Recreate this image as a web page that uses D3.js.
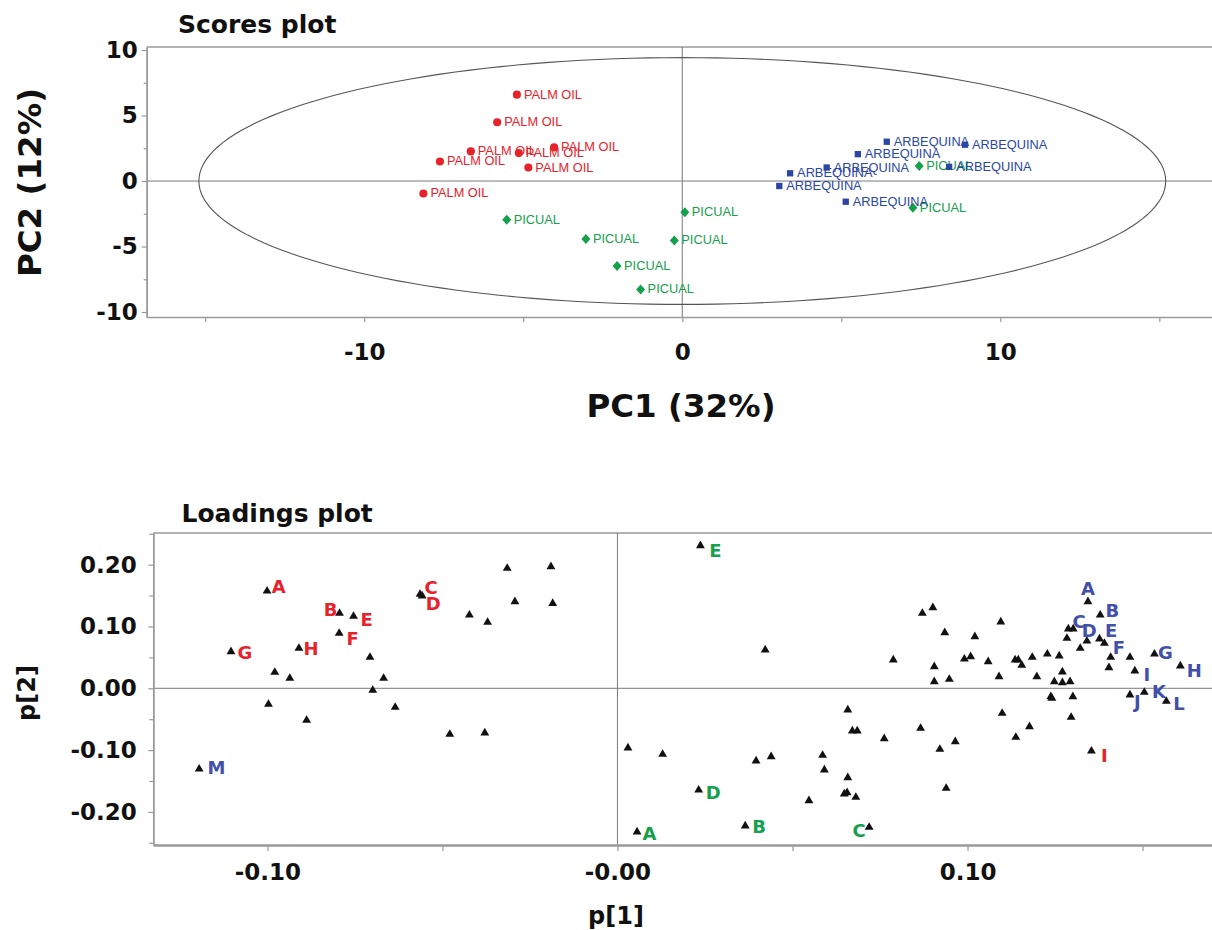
<!DOCTYPE html>
<html><head><meta charset="utf-8">
<script src="https://cdn.jsdelivr.net/npm/d3@7"></script>
<style>body{margin:0;background:#fff;} svg{display:block;}</style>
</head><body>
<svg id="chart" width="1212" height="930"></svg>
<script>
// ===================== DATA =====================
// Scores plot (PC1, PC2)
const palmOil = [[-5.20,6.59],[-5.82,4.49],[-6.65,2.26],[-5.14,2.13],[-4.03,2.57],[-7.62,1.49],[-4.84,1.03],[-8.14,-0.95]];
const picual = [[-5.52,-2.95],[-3.03,-4.43],[-0.25,-4.54],[0.08,-2.38],[-2.05,-6.48],[-1.31,-8.28],[7.45,1.15],[7.25,-2.05]];
const arbequina = [[6.43,3.00],[8.89,2.77],[5.52,2.05],[4.54,1.03],[3.39,0.59],[3.05,-0.38],[8.39,1.08],[5.14,-1.58]];
const scoreGroupNames = ["PALM OIL","PICUAL","ARBEQUINA"];
const hotellingRadii = [15.2, 9.42];   // T2 ellipse semi-axes (PC1, PC2)
const scoreXTicks = [-15,-10,-5,0,5,10,15];
const scoreXTickLabels = ["","-10","","0","","10",""];
const scoreYTicks = [-10,-5,0,5,10];
const scoreYTickLabels = ["-10","-5","0","5","10"];
const scoreYMinorTicks = [-7.5,-2.5,2.5,7.5];

// Loadings plot (p[1], p[2]) - unlabeled variables
const loadingsPlain = [
  [-0.0315,0.1942],[-0.0190,0.1968],[-0.0293,0.1401],[-0.0185,0.1375],[-0.0423,0.1186],[-0.0371,0.1068],
  [-0.0707,0.0502],[-0.0979,0.0259],[-0.0936,0.0162],[-0.0668,0.0162],[-0.0699,-0.0032],[-0.0997,-0.0259],
  [-0.0888,-0.0518],[-0.0635,-0.0307],[-0.0479,-0.0744],[-0.0379,-0.0723],
  [0.0422,0.0620],[0.0788,0.0458],[0.0658,-0.0351],[0.0671,-0.0691],[0.0685,-0.0691],[0.0762,-0.0816],
  [0.0030,-0.0966],[0.0129,-0.1068],[0.0396,-0.1176],[0.0439,-0.1107],[0.0586,-0.1084],[0.0591,-0.1322],
  [0.0658,-0.1447],[0.0648,-0.1710],[0.0656,-0.1689],[0.0681,-0.1764],[0.0547,-0.1819],[0.0866,-0.0647],
  [0.0921,-0.0987],[0.0965,-0.0864],[0.0939,-0.1618],[0.1138,-0.0793],[0.1177,-0.0621],[0.0871,0.1214],
  [0.0901,0.1304],[0.0935,0.0900],[0.0905,0.0350],[0.0905,0.0107],[0.0948,0.0146],[0.1021,0.0835],
  [0.1095,0.1073],[0.0991,0.0474],[0.1009,0.0511],[0.1059,0.0430],[0.1090,0.0188],[0.1136,0.0458],
  [0.1145,0.0458],[0.1155,0.0372],[0.1185,0.0502],[0.1198,0.0188],[0.1228,0.0555],[0.1262,0.0523],
  [0.1271,0.0264],[0.1248,0.0107],[0.1271,0.0091],[0.1293,0.0107],[0.1238,-0.0136],[0.1241,-0.0162],
  [0.1301,-0.0136],[0.1296,-0.0469],[0.1099,-0.0405],[0.1302,0.0960],[0.1284,0.0809],[0.1322,0.0647],
  [0.1391,0.0728],[0.1404,0.0333],[0.1464,0.0502]
];
// labeled variables: [p1, p2, letter]
const loadingsRed = [[-0.1001,0.1574,"A"],[-0.0794,0.1214,"B"],[-0.0564,0.1521,"C"],[-0.0558,0.1494,"D"],
  [-0.0754,0.1165,"E"],[-0.0795,0.0890,"F"],[-0.1104,0.0592,"G"],[-0.0910,0.0647,"H"],[0.1354,-0.1015,"I"]];
const loadingsGreen = [[0.0056,-0.2325,"A"],[0.0365,-0.2228,"B"],[0.0719,-0.2249,"C"],[0.0232,-0.1646,"D"],[0.0237,0.2307,"E"]];
const loadingsBlue = [[0.1344,0.1401,"A"],[0.1379,0.1186,"B"],[0.1288,0.0960,"C"],[0.1341,0.0765,"D"],
  [0.1377,0.0798,"E"],[0.1409,0.0502,"F"],[0.1534,0.0555,"G"],[0.1608,0.0361,"H"],[0.1478,0.0280,"I"],
  [0.1464,-0.0108,"J"],[0.1505,-0.0065,"K"],[0.1568,-0.0210,"L"],[-0.1195,-0.1306,"M"]];
const loadXTicks = [-0.10,-0.05,0,0.05,0.10,0.15];
const loadXTickLabels = ["-0.10","","-0.00","","0.10",""];
const loadYTicks = [-0.20,-0.10,0,0.10,0.20];
const loadYTickLabels = ["-0.20","-0.10","0.00","0.10","0.20"];
const loadYMinorTicks = [-0.25,-0.15,-0.05,0.05,0.15,0.25];

// ===================== LAYOUT / STYLE =====================
const labelOffsets = {
  red:   {A:[11.7,-4.3],B:[-9,-3.3],C:[11,-7],D:[11,7.3],E:[13,3],F:[13.4,5.7],G:[14,0.6],H:[12,0],I:[13,4]},
  green: {A:[12.3,1.3],B:[14,0.7],C:[-10,3.4],D:[14.6,2.7],E:[15,5]},
  blue:  {A:[0,-13.4],B:[12.3,-5],C:[10.7,-7.3],D:[2.3,-11],E:[11.7,-8],F:[8.3,-10],G:[11,-1.3],H:[14,5],
          I:[12,4],J:[7.3,6.7],K:[14.7,-0.6],L:[12.7,2],M:[17.4,-1.7]}
};
const COL = {red:"#e8222b", green:"#15a04b", blue:"#2b47a3", blueLbl:"#4150a8"};
const BOLD = "'DejaVu Sans', Verdana, sans-serif";
const SANS = "'Liberation Sans', Arial, sans-serif";
const AXIS_COL = "#9a9a9a";
const ZERO_COL = "#7a7a7a";

const svg = d3.select("#chart");

function styleAxis(g, fs) {
  g.select(".domain").attr("stroke", AXIS_COL).attr("stroke-width", 1.5);
  g.selectAll(".tick line").attr("stroke", AXIS_COL).attr("stroke-width", 1.2);
  g.selectAll(".tick text").attr("font-family", BOLD).attr("font-weight", "bold")
    .attr("font-size", fs).attr("fill", "#111");
}

// ===================== SCORES PLOT =====================
const sx = d3.scaleLinear().domain([-16.84, 16.75]).range([146.7, 1215]);
const sy = d3.scaleLinear().domain([-10.38, 10.23]).range([317, 47]);
const gS = svg.append("g");

gS.append("text").attr("x", 178).attr("y", 33).text("Scores plot")
  .attr("font-family", BOLD).attr("font-weight", "bold").attr("font-size", 25).attr("fill", "#111");

// frame top
gS.append("line").attr("x1", sx.range()[0]).attr("x2", sx.range()[1]).attr("y1", sy.range()[1]).attr("y2", sy.range()[1])
  .attr("stroke", AXIS_COL).attr("stroke-width", 1.5);
// zero lines
gS.append("line").attr("x1", sx.range()[0]).attr("x2", sx.range()[1]).attr("y1", sy(0)).attr("y2", sy(0))
  .attr("stroke", ZERO_COL).attr("stroke-width", 1);
gS.append("line").attr("x1", sx(0)).attr("x2", sx(0)).attr("y1", sy.range()[0]).attr("y2", sy.range()[1])
  .attr("stroke", ZERO_COL).attr("stroke-width", 1);

// Hotelling ellipse
const ellPts = d3.range(0, 361, 2).map(a => {
  const t = a * Math.PI / 180;
  return [hotellingRadii[0] * Math.cos(t), hotellingRadii[1] * Math.sin(t)];
});
gS.append("path").attr("d", d3.line().x(d => sx(d[0])).y(d => sy(d[1]))(ellPts))
  .attr("fill", "none").attr("stroke", "#555").attr("stroke-width", 1.1);

// axes
const sLeft = gS.append("g").attr("transform", `translate(${sx.range()[0]},0)`)
  .call(d3.axisLeft(sy).tickValues(scoreYTicks).tickFormat((d, i) => scoreYTickLabels[i])
    .tickSizeInner(5).tickSizeOuter(0).tickPadding(4));
styleAxis(sLeft, 23);
const sLeftMinor = gS.append("g").attr("transform", `translate(${sx.range()[0]},0)`)
  .call(d3.axisLeft(sy).tickValues(scoreYMinorTicks).tickFormat("").tickSizeInner(3).tickSizeOuter(0));
styleAxis(sLeftMinor, 23);
const sBottom = gS.append("g").attr("transform", `translate(0,${sy.range()[0]})`)
  .call(d3.axisBottom(sx).tickValues(scoreXTicks).tickFormat((d, i) => scoreXTickLabels[i])
    .tickSizeInner(5).tickSizeOuter(0).tickPadding(22));
styleAxis(sBottom, 23);

gS.append("text").attr("transform", `translate(40.5,182.5) rotate(-90)`).attr("text-anchor", "middle")
  .text("PC2 (12%)").attr("font-family", BOLD).attr("font-weight", "bold").attr("font-size", 32.5).attr("fill", "#111");
gS.append("text").attr("x", 681).attr("y", 417).attr("text-anchor", "middle")
  .text("PC1 (32%)").attr("font-family", BOLD).attr("font-weight", "bold").attr("font-size", 32.5).attr("fill", "#111");

const diamondType = { draw(ctx, size) { const h = Math.sqrt(size / 1.8), w = h * 0.9;
  ctx.moveTo(0, -h); ctx.lineTo(w, 0); ctx.lineTo(0, h); ctx.lineTo(-w, 0); ctx.closePath(); } };
const scoreSets = [
  {data: palmOil, name: scoreGroupNames[0], color: COL.red, sym: d3.symbolCircle, size: 52},
  {data: picual, name: scoreGroupNames[1], color: COL.green, sym: diamondType, size: 45},
  {data: arbequina, name: scoreGroupNames[2], color: COL.blue, sym: d3.symbolSquare, size: 40}
];
scoreSets.forEach(s => {
  const g = gS.append("g");
  g.selectAll("path").data(s.data).join("path")
    .attr("transform", d => `translate(${sx(d[0])},${sy(d[1])})`)
    .attr("d", d3.symbol().type(s.sym).size(s.size)).attr("fill", s.color);
  g.selectAll("text").data(s.data).join("text")
    .attr("x", d => sx(d[0]) + 7).attr("y", d => sy(d[1]) + 4)
    .text(s.name).attr("font-family", SANS).attr("font-size", 12.8).attr("fill", s.color);
});

// ===================== LOADINGS PLOT =====================
const lx = d3.scaleLinear().domain([-0.1326, 0.1707]).range([153.3, 1215]);
const ly = d3.scaleLinear().domain([-0.2536, 0.2513]).range([845, 533]);
const gL = svg.append("g");

gL.append("text").attr("x", 181.5).attr("y", 521.5).text("Loadings plot")
  .attr("font-family", BOLD).attr("font-weight", "bold").attr("font-size", 25).attr("fill", "#111");

gL.append("line").attr("x1", lx.range()[0]).attr("x2", lx.range()[1]).attr("y1", ly.range()[1]).attr("y2", ly.range()[1])
  .attr("stroke", AXIS_COL).attr("stroke-width", 1.5);
gL.append("line").attr("x1", lx.range()[0]).attr("x2", lx.range()[1]).attr("y1", ly(0)).attr("y2", ly(0))
  .attr("stroke", ZERO_COL).attr("stroke-width", 1);
gL.append("line").attr("x1", lx(0)).attr("x2", lx(0)).attr("y1", ly.range()[0]).attr("y2", ly.range()[1])
  .attr("stroke", ZERO_COL).attr("stroke-width", 1);

const lLeft = gL.append("g").attr("transform", `translate(${lx.range()[0]},0)`)
  .call(d3.axisLeft(ly).tickValues(loadYTicks).tickFormat((d, i) => loadYTickLabels[i])
    .tickSizeInner(5).tickSizeOuter(0).tickPadding(11.5));
styleAxis(lLeft, 23);
const lLeftMinor = gL.append("g").attr("transform", `translate(${lx.range()[0]},0)`)
  .call(d3.axisLeft(ly).tickValues(loadYMinorTicks).tickFormat("").tickSizeInner(4).tickSizeOuter(0));
styleAxis(lLeftMinor, 23);
const lBottom = gL.append("g").attr("transform", `translate(0,${ly.range()[0]})`)
  .call(d3.axisBottom(lx).tickValues(loadXTicks).tickFormat((d, i) => loadXTickLabels[i])
    .tickSizeInner(6).tickSizeOuter(0).tickPadding(12.8));
styleAxis(lBottom, 23);
lBottom.select(".domain").attr("stroke-width", 2.5);

gL.append("text").attr("transform", `translate(35,693) rotate(-90)`).attr("text-anchor", "middle")
  .text("p[2]").attr("font-family", BOLD).attr("font-weight", "bold").attr("font-size", 24).attr("fill", "#111");
gL.append("text").attr("x", 616).attr("y", 924).attr("text-anchor", "middle")
  .text("p[1]").attr("font-family", BOLD).attr("font-weight", "bold").attr("font-size", 24).attr("fill", "#111");

const tri = d3.symbol().type(d3.symbolTriangle).size(34);
const allLoadings = loadingsPlain.concat(loadingsRed, loadingsGreen, loadingsBlue);
gL.append("g").selectAll("path").data(allLoadings).join("path")
  .attr("transform", d => `translate(${lx(d[0])},${ly(d[1])})`)
  .attr("d", tri).attr("fill", "#111");

[["red", loadingsRed, COL.red], ["green", loadingsGreen, COL.green], ["blue", loadingsBlue, COL.blueLbl]].forEach(([key, arr, col]) => {
  gL.append("g").selectAll("text").data(arr).join("text")
    .attr("x", d => lx(d[0]) + labelOffsets[key][d[2]][0])
    .attr("y", d => ly(d[1]) + labelOffsets[key][d[2]][1] + 6.5)
    .attr("text-anchor", "middle").text(d => d[2])
    .attr("font-family", BOLD).attr("font-weight", "bold").attr("font-size", 18).attr("fill", col);
});
</script>
</body></html>
